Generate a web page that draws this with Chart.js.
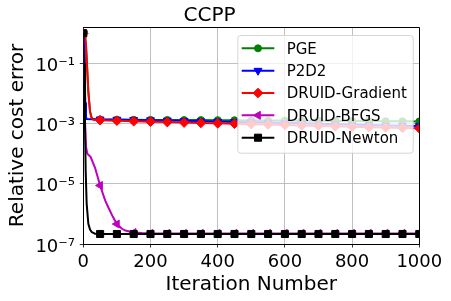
<!DOCTYPE html>
<html><head><meta charset="utf-8">
<script src="https://cdn.jsdelivr.net/npm/chart.js@4.4.1/dist/chart.umd.min.js"></script>
<style>html,body{margin:0;padding:0;background:#fff}#wrap{width:451px;height:301px;position:relative}</style>
</head><body><div id="wrap"><canvas id="c" width="451" height="301"></canvas></div>
<script>
// ---- data ----
const seriesNames = ['PGE', 'P2D2', 'DRUID-Gradient', 'DRUID-BFGS', 'DRUID-Newton'];
const xTicks = [0, 200, 400, 600, 800, 1000];
const xTickLabels = ['0', '200', '400', '600', '800', '1000'];
const yTicks = [1e-7, 1e-5, 1e-3, 1e-1];
const yTickLabels = ['10⁻⁷', '10⁻⁵', '10⁻³', '10⁻¹'];

const itersPGE = [0, 5, 8, 10, 15, 20, 25, 30, 50, 100, 150, 200, 250, 300, 350, 400, 450, 500, 550, 600, 650, 700, 750, 800, 850, 900, 950, 1000];
const errPGE = [1, 0.9, 0.4, 0.15, 0.012, 2.6e-3, 1.55e-3, 1.4e-3, 1.36e-3, 1.35e-3, 1.34e-3, 1.33e-3, 1.32e-3, 1.31e-3, 1.31e-3, 1.30e-3, 1.29e-3, 1.28e-3, 1.27e-3, 1.26e-3, 1.25e-3, 1.24e-3, 1.23e-3, 1.22e-3, 1.21e-3, 1.20e-3, 1.19e-3, 1.18e-3];

const itersP2D2 = [0, 2, 4, 6, 8, 10, 50, 100, 150, 200, 250, 300, 350, 400, 450, 500, 550, 600, 650, 700, 750, 800, 850, 900, 950, 1000];
const errP2D2 = [1, 0.2, 0.03, 5e-3, 1.7e-3, 1.42e-3, 1.38e-3, 1.36e-3, 1.33e-3, 1.30e-3, 1.27e-3, 1.24e-3, 1.20e-3, 1.17e-3, 1.14e-3, 1.11e-3, 1.08e-3, 1.05e-3, 1.02e-3, 9.9e-4, 9.6e-4, 9.3e-4, 9.0e-4, 8.7e-4, 8.5e-4, 8.3e-4];

const itersGrad = [0, 5, 8, 10, 15, 20, 25, 30, 50, 100, 150, 200, 250, 300, 350, 400, 450, 500, 550, 600, 650, 700, 750, 800, 850, 900, 950, 1000];
const errGrad = [1, 0.9, 0.4, 0.15, 0.011, 2.4e-3, 1.5e-3, 1.35e-3, 1.30e-3, 1.25e-3, 1.20e-3, 1.16e-3, 1.12e-3, 1.08e-3, 1.05e-3, 1.02e-3, 9.9e-4, 9.6e-4, 9.3e-4, 9.0e-4, 8.7e-4, 8.4e-4, 8.1e-4, 7.8e-4, 7.6e-4, 7.4e-4, 7.2e-4, 7.0e-4];

const itersBFGS = [0, 3, 5, 8, 12, 22, 35, 50, 65, 75, 88, 100, 115, 125, 150, 175, 200, 250, 300, 350, 400, 450, 500, 550, 600, 650, 700, 750, 800, 850, 900, 950, 1000];
const errBFGS = [1, 0.5, 1.3e-3, 1.7e-4, 1.0e-4, 7.7e-5, 3.4e-5, 8.8e-6, 2.8e-6, 1.6e-6, 8.0e-7, 4.6e-7, 3.2e-7, 2.8e-7, 2.4e-7, 2.3e-7, 2.25e-7, 2.25e-7, 2.25e-7, 2.25e-7, 2.25e-7, 2.25e-7, 2.25e-7, 2.25e-7, 2.25e-7, 2.25e-7, 2.25e-7, 2.25e-7, 2.25e-7, 2.25e-7, 2.25e-7, 2.25e-7, 2.25e-7];

const itersNewton = [0, 3, 5, 7, 10, 15, 20, 25, 35, 50, 100, 150, 200, 250, 300, 350, 400, 450, 500, 550, 600, 650, 700, 750, 800, 850, 900, 950, 1000];
const errNewton = [1, 0.1, 1e-3, 3e-5, 2.2e-6, 4.7e-7, 3.0e-7, 2.5e-7, 2.2e-7, 2.15e-7, 2.15e-7, 2.15e-7, 2.15e-7, 2.15e-7, 2.15e-7, 2.15e-7, 2.15e-7, 2.15e-7, 2.15e-7, 2.15e-7, 2.15e-7, 2.15e-7, 2.15e-7, 2.15e-7, 2.15e-7, 2.15e-7, 2.15e-7, 2.15e-7, 2.15e-7];

const seriesIters = [itersPGE, itersP2D2, itersGrad, itersBFGS, itersNewton];
const seriesErr = [errPGE, errP2D2, errGrad, errBFGS, errNewton];

// ---- styles ----
const FONT = 'DejaVu Sans';
const styles = [
  {color: '#008000', pointStyle: 'circle', radius: 3.5, rotation: 0},
  {color: '#0000ff', pointStyle: 'triangle', radius: 4.6, rotation: 180},
  {color: '#ff0000', pointStyle: 'rectRot', radius: 4.8, rotation: 0},
  {color: '#bf00bf', pointStyle: 'triangle', radius: 4.6, rotation: 270},
  {color: '#000000', pointStyle: 'rect', radius: 5.0, rotation: 0}
];
const markEvery = 50;

Chart.defaults.font.family = FONT;
Chart.defaults.color = '#000';

const datasets = seriesNames.map((name, i) => ({
  label: name,
  data: seriesIters[i].map((x, j) => ({x: x, y: seriesErr[i][j]})),
  borderColor: styles[i].color,
  backgroundColor: styles[i].color,
  borderWidth: 2,
  pointStyle: styles[i].pointStyle,
  rotation: styles[i].rotation,
  pointBorderColor: styles[i].color,
  pointBackgroundColor: styles[i].color,
  pointBorderWidth: 1,
  pointRadius: (ctx) => (ctx.raw && ctx.raw.x % markEvery === 0) ? styles[i].radius : 0,
  pointHoverRadius: 0,
  tension: 0,
  fill: false,
  order: seriesNames.length - i
}));

function alignPx(p) { return Math.round(p - 0.5) + 0.5; }

const framePlugin = {
  id: 'frame',
  afterDraw(chart) {
    const {ctx, chartArea: a} = chart;
    ctx.save();
    ctx.strokeStyle = '#000';
    ctx.lineWidth = 1;
    ctx.beginPath();
    ctx.moveTo(alignPx(a.left), alignPx(a.top));
    ctx.lineTo(alignPx(a.right), alignPx(a.top));
    ctx.lineTo(alignPx(a.right), alignPx(a.bottom));
    ctx.stroke();
    ctx.restore();
  }
};

function roundRect(ctx, x, y, w, h, r) {
  ctx.beginPath();
  ctx.moveTo(x + r, y);
  ctx.lineTo(x + w - r, y);
  ctx.arcTo(x + w, y, x + w, y + r, r);
  ctx.lineTo(x + w, y + h - r);
  ctx.arcTo(x + w, y + h, x + w - r, y + h, r);
  ctx.lineTo(x + r, y + h);
  ctx.arcTo(x, y + h, x, y + h - r, r);
  ctx.lineTo(x, y + r);
  ctx.arcTo(x, y, x + r, y, r);
  ctx.closePath();
}

const legendPlugin = {
  id: 'mplLegend',
  afterDraw(chart) {
    const {ctx, chartArea: a} = chart;
    const w = 175.4, h = 117.7;
    const x0 = a.right - 6.6 - w, y0 = a.top + 8;
    ctx.save();
    roundRect(ctx, x0 + 0.5, y0 + 0.5, w, h, 3);
    ctx.fillStyle = 'rgba(255,255,255,0.8)';
    ctx.fill();
    ctx.strokeStyle = 'rgba(204,204,204,0.8)';
    ctx.lineWidth = 1;
    ctx.stroke();
    chart.data.datasets.forEach((ds, i) => {
      const st = styles[i];
      const yy = y0 + 13.3 + i * 22.35;
      const lx0 = x0 + 4.4, lx1 = x0 + 37;
      ctx.strokeStyle = st.color;
      ctx.lineWidth = 2;
      ctx.beginPath();
      ctx.moveTo(lx0, yy);
      ctx.lineTo(lx1, yy);
      ctx.stroke();
      ctx.fillStyle = st.color;
      ctx.strokeStyle = st.color;
      ctx.lineWidth = 1;
      Chart.helpers.drawPoint(ctx, {pointStyle: st.pointStyle, radius: st.radius, rotation: st.rotation, borderWidth: 1}, (lx0 + lx1) / 2, yy);
      ctx.fillStyle = '#000';
      ctx.font = '15px "' + FONT + '"';
      ctx.textAlign = 'left';
      ctx.textBaseline = 'middle';
      ctx.fillText(ds.label, x0 + 49.4, yy + 1.5);
    });
    ctx.restore();
  }
};

new Chart(document.getElementById('c'), {
  type: 'line',
  data: {datasets: datasets},
  options: {
    responsive: false,
    animation: false,
    events: [],
    devicePixelRatio: 1,
    layout: {padding: {left: 0, right: 31.7, top: 0, bottom: 0}},
    plugins: {
      legend: {display: false},
      tooltip: {enabled: false},
      title: {
        display: true, text: 'CCPP', color: '#000',
        font: {family: FONT, size: 20, weight: 'normal', lineHeight: 1.1},
        padding: {top: 5, bottom: 0}
      }
    },
    scales: {
      x: {
        type: 'linear', min: 0, max: 1000,
        afterBuildTicks: (s) => { s.ticks = xTicks.map(v => ({value: v})); },
        afterFit: (s) => { s.height = 57; },
        ticks: {
          font: {family: FONT, size: 18}, color: '#000', padding: 4, maxRotation: 0, autoSkip: false,
          callback: (v) => { const k = xTicks.indexOf(v); return k >= 0 ? xTickLabels[k] : ''; }
        },
        grid: {color: '#b0b0b0', lineWidth: 0.8, tickColor: '#000', tickLength: 3.5, tickWidth: 0.8},
        border: {display: true, color: '#000', width: 1},
        title: {display: true, text: 'Iteration Number', color: '#000', font: {family: FONT, size: 20}, padding: {top: 0, bottom: 4.4}}
      },
      y: {
        type: 'logarithmic', min: 1e-7, max: 1.62, bounds: 'data',
        afterBuildTicks: (s) => { s.ticks = yTicks.map(v => ({value: v})); },
        afterFit: (s) => { s.width = 83.3; },
        ticks: {
          font: {family: FONT, size: 18}, color: '#000', padding: 4.8, labelOffset: 3, autoSkip: false,
          callback: (v) => {
            const k = yTicks.findIndex(t => Math.abs(Math.log10(t) - Math.log10(v)) < 1e-6);
            return k >= 0 ? yTickLabels[k] : '';
          }
        },
        grid: {color: '#b0b0b0', lineWidth: 0.8, tickColor: '#000', tickLength: 3.5, tickWidth: 0.8},
        border: {display: true, color: '#000', width: 1},
        title: {display: true, text: 'Relative cost error', color: '#000', font: {family: FONT, size: 20}, padding: {top: 5.4, bottom: 0}}
      }
    }
  },
  plugins: [framePlugin, legendPlugin]
});
</script>
</body></html>
